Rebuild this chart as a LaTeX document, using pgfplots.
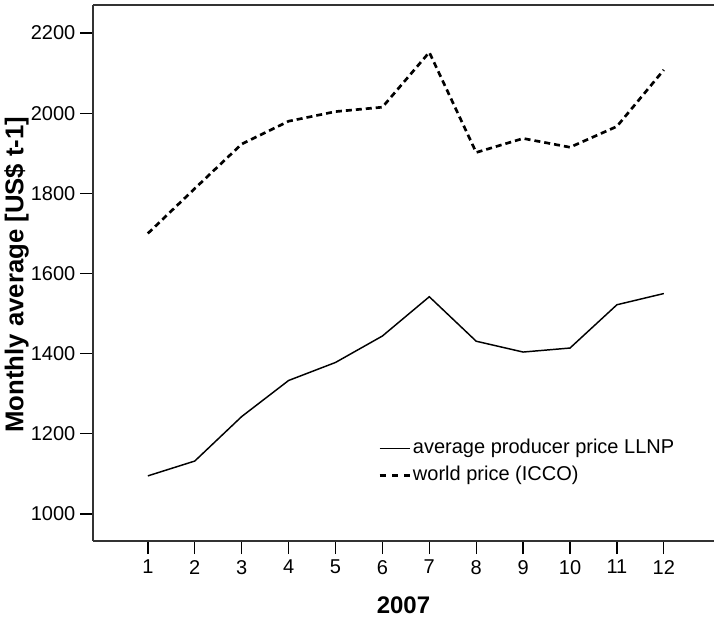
\documentclass[border=0pt]{standalone}
\usepackage{pgfplots}
\pgfplotsset{compat=1.18}
\usepackage{fontspec}
\setmainfont{Liberation Sans}
\begin{document}
\begin{tikzpicture}
\begin{axis}[
  at={(69.75pt,57pt)}, anchor=south west,
  scale only axis, width=465.75pt, height=402pt,
  xmin=-0.17, xmax=13.07, ymin=932.5, ymax=2270,
  axis x line=box, axis y line=left,
  axis line style={-, line width=1pt, black!80},
  xtick pos=left, ytick pos=left,
  xtick={1,...,12}, ytick={1000,1200,...,2200},
  tick align=outside, major tick length=9.75pt,
  tick style={line width=1pt, black},
  /pgf/number format/assume math mode=true,
  /pgf/number format/1000 sep={},
  ticklabel style={font=\fontsize{15}{18}\selectfont},
  xticklabel style={yshift=-1pt},
  xlabel={2007}, ylabel={Monthly average [US\$ t-1]},
  xlabel style={font=\fontsize{18}{21}\selectfont\bfseries, at={(axis description cs:0.5,-0.119)}, anchor=center},
  ylabel style={font=\fontsize{19.3}{22}\selectfont\bfseries, at={(axis description cs:-0.123,0.497)}, anchor=center, rotate=0},
  legend style={draw=none, fill=none, at={(rel axis cs:0.459,0.191)}, anchor=north west,
    inner sep=0pt, font=\fontsize{15}{18}\selectfont,
    nodes={inner sep=0pt, text height=11pt, text depth=3.5pt}, row sep=5.75pt, column sep=1pt},
  legend cell align=left,
  legend image code/.code={\draw[#1] (0pt,0pt) -- (23pt,0pt);},
]
\addplot[black, line width=1.1pt] coordinates {
(1,1095) (2,1132) (3,1243) (4,1333) (5,1378) (6,1444) (7,1542) (8,1431) (9,1404) (10,1414) (11,1522) (12,1550)};
\addlegendentry{average producer price LLNP}
\addplot[black, line width=2pt, dash pattern=on 4.5pt off 3pt,
  legend image post style={dash pattern=on 4.4pt off 4.9pt}] coordinates {
(1,1700) (2,1812) (3,1923) (4,1980) (5,2004) (6,2015) (7,2152) (8,1902) (9,1937) (10,1915) (11,1967) (12,2108)};
\addlegendentry{world price (ICCO)}
\end{axis}
\pgfresetboundingbox
\useasboundingbox (0,0) rectangle (535.5pt,462.75pt);
\end{tikzpicture}
\end{document}
